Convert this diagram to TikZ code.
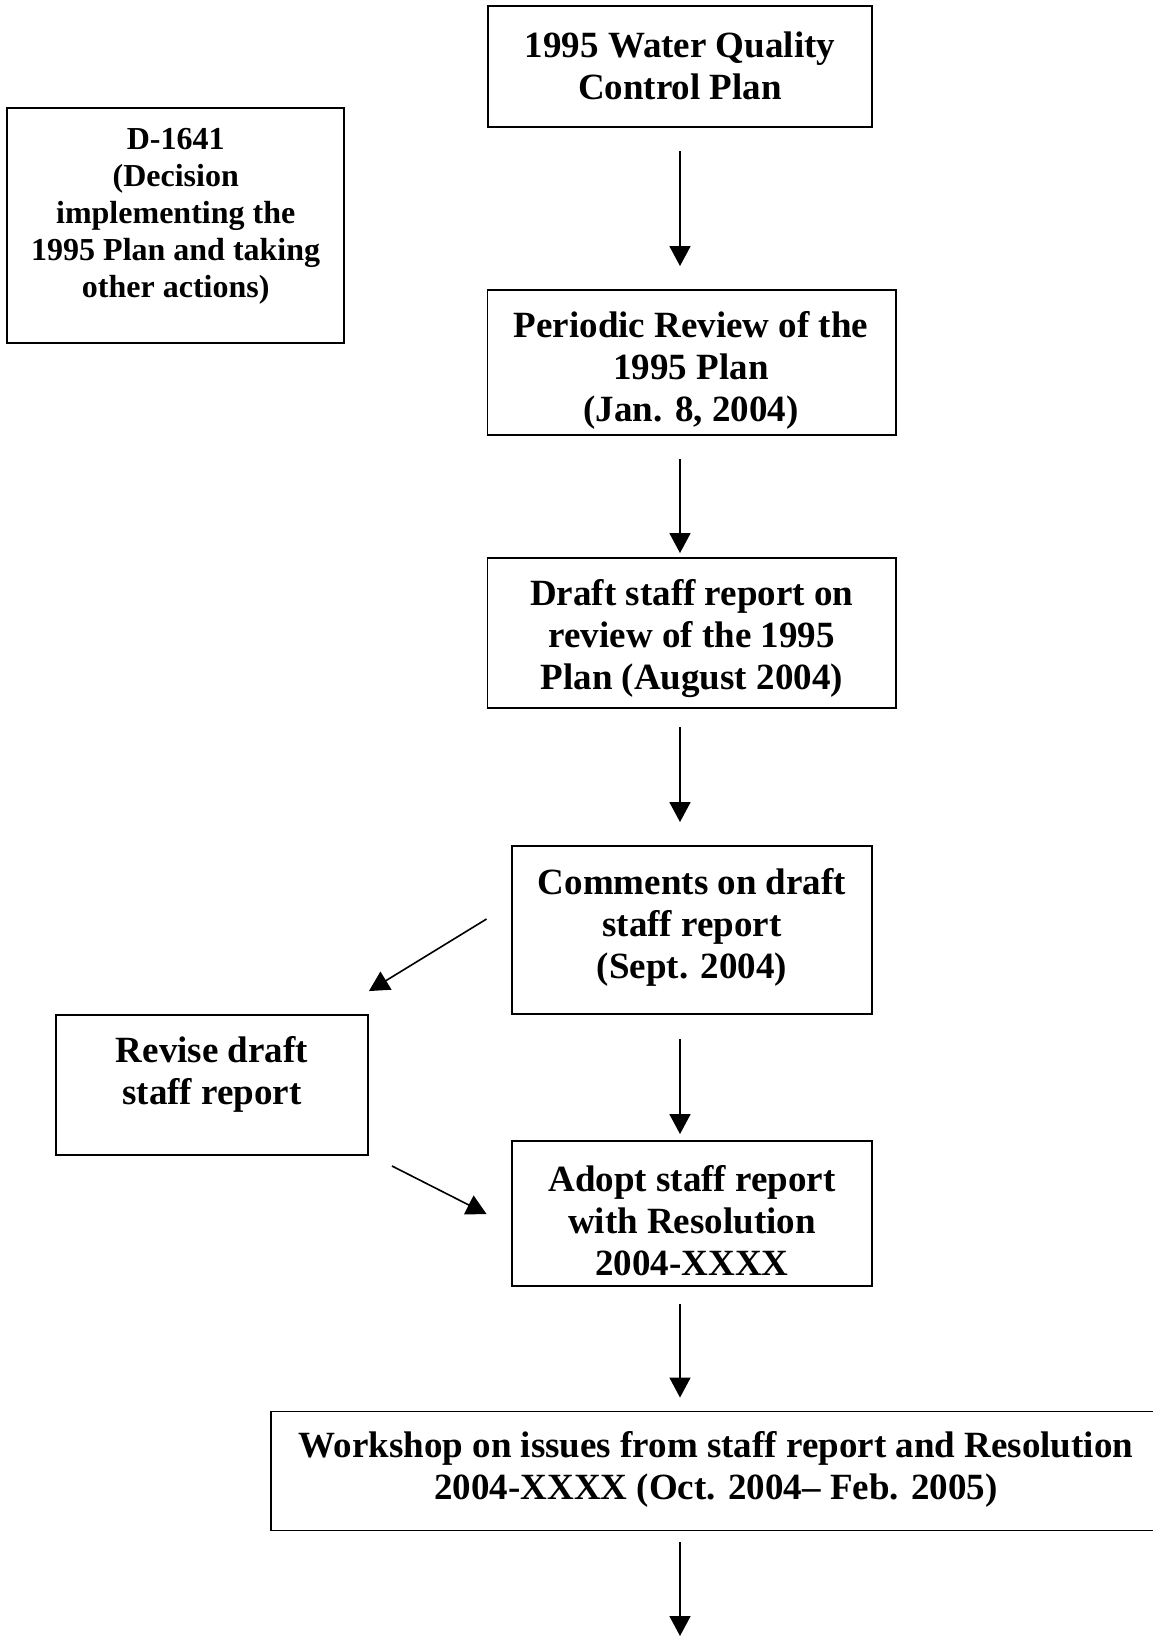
\documentclass[tikz,border=0pt]{standalone}
\usepackage{fontspec}
\setmainfont{Liberation Serif}
\usetikzlibrary{arrows.meta}
\begin{document}
\begin{tikzpicture}[x=1pt,y=-1pt,
 box/.style={draw,line width=1.9pt,inner sep=0pt},
 txt/.style={inner sep=0pt,align=center,font=\fontsize{37}{42}\selectfont\bfseries},
 stxt/.style={inner sep=0pt,align=center,font=\fontsize{32}{37}\selectfont\bfseries},
 arr/.style={line width=1.6pt,-{Triangle[length=20pt,width=21pt]}}]
\useasboundingbox (0,0) rectangle (1153,1636);
\fill[white] (0,0) rectangle (1153,1636);
% boxes
\node[box,minimum width=384pt,minimum height=121pt] (b1) at (680,66.5) {};
\node[box,minimum width=336.6pt,minimum height=235pt] (dec) at (175.7,225.5) {};
\node[box,minimum width=408.5pt,minimum height=145pt] (b2) at (691.75,362.5) {};
\node[box,minimum width=408.5pt,minimum height=150pt] (b3) at (691.75,633) {};
\node[box,minimum width=360pt,minimum height=168pt] (b4) at (692,930) {};
\node[box,minimum width=312pt,minimum height=140pt] (rev) at (212,1085) {};
\node[box,minimum width=360pt,minimum height=145pt] (adopt) at (692,1213.5) {};
\node[box,minimum width=890pt,minimum height=119pt] (ws) at (716,1471) {};
% texts
\node[txt] (t1) at (680,66) {1995 Water Quality\\Control Plan};
\node[stxt] (tdec) at (175.7,216) {D-1641\\(Decision\\implementing the\\1995 Plan and taking\\other actions)};
\node[txt] (t2) at (691,370.5) {Periodic Review of the\\1995 Plan\\(Jan. 8, 2004)};
\node[txt] (t3) at (691.75,639) {Draft staff report on\\review of the 1995\\Plan (August 2004)};
\node[txt] (t4) at (692,927) {Comments on draft\\staff report\\(Sept. 2004)};
\node[txt] (trev) at (212,1074) {Revise draft\\staff report};
\node[txt] (tadopt) at (692,1221) {Adopt staff report\\with Resolution\\2004-XXXX};
\node[txt] (tws) at (716,1469) {Workshop on issues from staff report and Resolution\\2004-XXXX (Oct. 2004-- Feb. 2005)};
% arrows
\draw[arr,shorten <=23pt,shorten >=23pt] (b1.south) -- (b1.south |- b2.north);
\draw[arr,shorten <=23pt,shorten >=4pt] (b1.south |- b2.south) -- (b1.south |- b3.north);
\draw[arr,shorten <=18pt,shorten >=23pt] (b1.south |- b3.south) -- (b1.south |- b4.north);
\draw[arr,shorten <=24pt,shorten >=6pt] (b1.south |- b4.south) -- (b1.south |- adopt.north);
\draw[arr,shorten <=17pt,shorten >=13pt] (b1.south |- adopt.south) -- (b1.south |- ws.north);
\coordinate (bottom) at (680,1636);
\draw[arr,shorten <=11pt] (b1.south |- ws.south) -- (bottom);
\draw[arr] ([shift={(-24.5,-11)}]b4.west) -- ([shift={(0,-23)}]rev.north east);
\draw[arr] ([shift={(23,10)}]rev.south east) -- ([shift={(-24.5,0.5)}]adopt.west);
\end{tikzpicture}
\end{document}
